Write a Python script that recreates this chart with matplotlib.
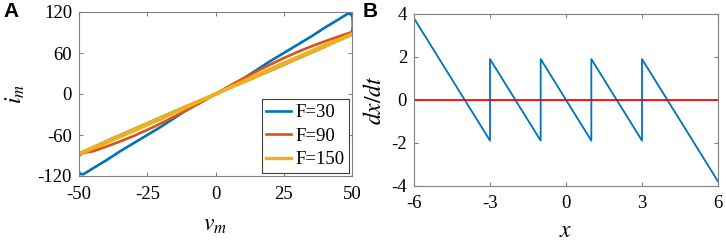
import matplotlib
matplotlib.use("Agg")
import matplotlib.pyplot as plt

plt.rcParams['font.family'] = ['Liberation Serif', 'DejaVu Serif']
plt.rcParams['mathtext.fontset'] = 'stix'
plt.rcParams['axes.unicode_minus'] = False

# ---------------- Panel A data ----------------
blue_v = [0, 5, 10, 15, 20, 25, 30, 35, 40, 45, 47, 48.5, 49.6, 50.2, 50.3, 50.1, 49.8,
          40, 30, 20, 10, 0, -10, -20, -30, -40, -49.8,
          -50.1, -50.3, -50.2, -49.6, -48.5, -47, -45, -40, -35, -30, -25, -20, -15, -10, -5, 0]
blue_i = [0, 11, 22, 35, 48, 60, 72, 84, 97, 109, 114, 117.5, 117, 112, 100, 93, 88.5,
          69, 51.5, 34, 17, 0, -17, -34, -51.5, -69, -88.5,
          -93, -100, -112, -117, -117.5, -114, -109, -97, -84, -72, -60, -48, -35, -22, -11, 0]

orange_v = [0, 5, 10, 15, 20, 25, 30, 35, 40, 45, 49.5, 50.2, 49.8, 40, 30, 20, 10, 0,
            -10, -20, -30, -40, -49.5, -50.2, -49.8, -45, -40, -35, -30, -25, -20, -15, -10, -5, 0]
orange_i = [0, 11.5, 22.5, 33, 43, 52.5, 61.5, 69.5, 77, 84, 90, 90.5, 89, 71, 53, 35.5, 17.8, 0,
            -17.8, -35.5, -53, -71, -88.5, -88, -86.5, -84, -77, -69.5, -61.5, -52.5, -43, -33, -22.5, -11.5, 0]

yellow_v = [0, 10, 20, 30, 40, 50, 50, 40, 30, 20, 10, 0, -10, -20, -30, -40, -50, -50, -40, -30, -20, -10, 0]
yellow_i = [0, 18.5, 36.5, 54, 71.5, 88, 87, 69.5, 52, 34.5, 17, 0, -18.5, -36.5, -54, -71.5, -88, -87, -69.5, -52, -34.5, -17, 0]

a_xticks = [-50, -25, 0, 25, 50]
a_yticks = [-120, -60, 0, 60, 120]
legend_labels = ['F=30', 'F=90', 'F=150']

# ---------------- Panel B data ----------------
saw_x = [-6, -3, -3, -1, -1, 1, 1, 3, 3, 6]
saw_y = [3.8, -1.9, 1.9, -1.9, 1.9, -1.9, 1.9, -1.9, 1.9, -3.8]
zero_x = [-6, 6]
zero_y = [0, 0]
b_xticks = [-6, -3, 0, 3, 6]
b_yticks = [-4, -2, 0, 2, 4]

BLUE = '#0072BD'
ORANGE = '#D95319'
YELLOW = '#EDB120'
SPINE = '#808080'
FS = 13.5
LFS = 17

fig = plt.figure(figsize=(7.26, 2.42), dpi=100)
axA = fig.add_axes([79/726, 1-176/242, 273/726, 164/242])
axB = fig.add_axes([414/726, 1-185.7/242, 304/726, 171.7/242])

def style(ax):
    for s in ax.spines.values():
        s.set_color(SPINE)
        s.set_linewidth(0.8)
    ax.tick_params(direction='in', length=3, width=0.8, color=SPINE,
                   labelsize=FS, labelcolor='black', top=True, right=True)
    ax.tick_params(axis='x', pad=7)
    ax.tick_params(axis='y', pad=5)

axA.plot(blue_v, blue_i, color=BLUE, lw=1.9, label=legend_labels[0])
axA.plot(orange_v, orange_i, color=ORANGE, lw=1.9, label=legend_labels[1])
axA.plot(yellow_v, yellow_i, color=YELLOW, lw=2.4, label=legend_labels[2])
axA.set_xlim(-50, 50)
axA.set_ylim(-120, 120)
axA.set_xticks(a_xticks)
axA.set_yticks(a_yticks)
style(axA)
axA.set_xlabel(r'$v_m$', fontsize=LFS, labelpad=9)
axA.set_ylabel(r'$i_m$', fontsize=LFS, labelpad=8)
leg = axA.legend(loc='lower right', fontsize=FS, frameon=True, fancybox=False,
                 edgecolor='#404040', framealpha=1, borderpad=0.25, labelspacing=0.35,
                 handlelength=1.3, handletextpad=0.25, borderaxespad=0.15)
leg.get_frame().set_linewidth(0.8)

axB.plot(saw_x, saw_y, color=BLUE, lw=1.3)
axB.plot(zero_x, zero_y, color='#FF0000', lw=1.3)
axB.set_xlim(-6, 6)
axB.set_ylim(-4, 4)
axB.set_xticks(b_xticks)
axB.set_yticks(b_yticks)
style(axB)
axB.set_xlabel(r'$x$', fontsize=LFS, labelpad=6)
axB.set_ylabel(r'$dx/dt$', fontsize=LFS, labelpad=4)

fig.text(3/726, 1-2/242, 'A', fontsize=15, fontweight='bold', family='Liberation Sans', va='top', ha='left')
fig.text(363/726, 1-2/242, 'B', fontsize=15, fontweight='bold', family='Liberation Sans', va='top', ha='left')

fig.savefig('out.png', dpi=100)
